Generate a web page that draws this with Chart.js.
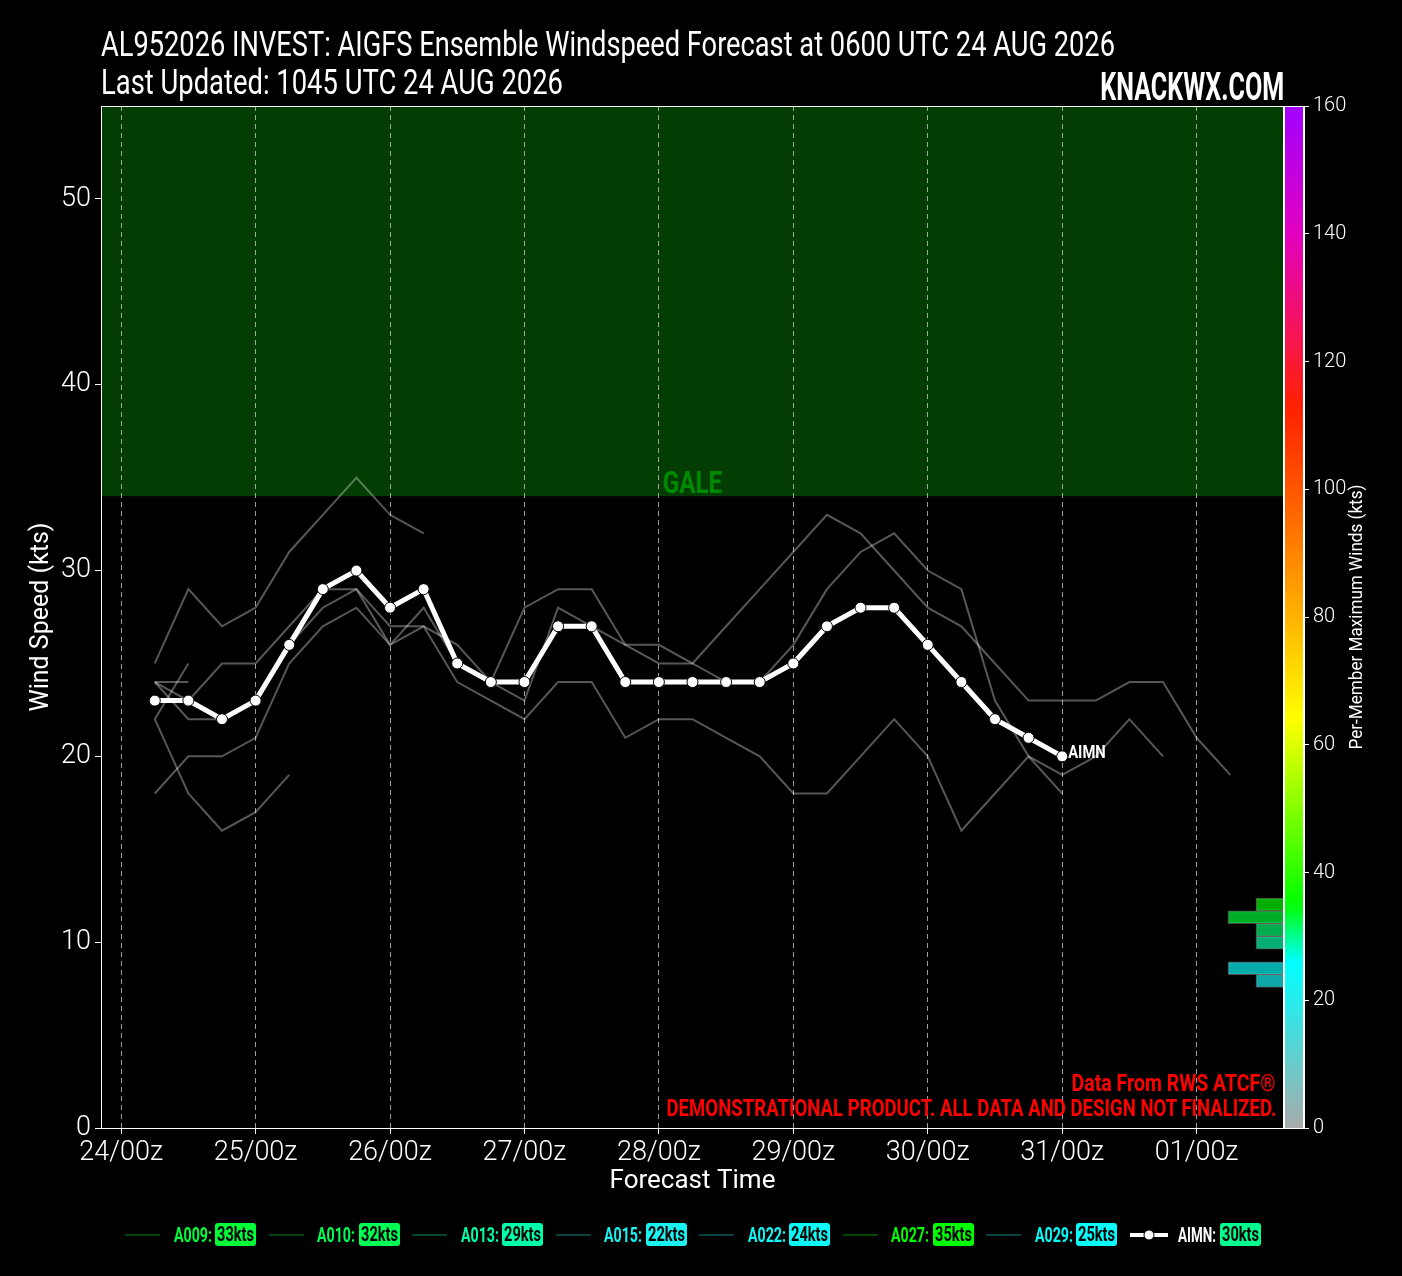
<!DOCTYPE html>
<html><head><meta charset="utf-8">
<script src="https://cdn.jsdelivr.net/npm/chart.js@4.4.1/dist/chart.umd.min.js"></script>
<style>
html,body{margin:0;padding:0;background:#000;width:1402px;height:1276px;overflow:hidden;}
#wrap{position:relative;width:1402px;height:1276px;background:#000;}
canvas{position:absolute;left:0;top:0;}
.t{position:absolute;color:#fff;font-family:Roboto,'Liberation Sans',sans-serif;white-space:nowrap;line-height:1;display:inline-block;}
.sw{position:absolute;height:2px;width:35px;}
.bx{position:absolute;height:23px;border-radius:3px;overflow:hidden;}
</style></head><body>
<div id="wrap">
<canvas id="c" width="1402" height="1276"></canvas>
<div class="t" id="t1" style="left:101px;top:27px;font-size:35px;">AL952026 INVEST: AIGFS Ensemble Windspeed Forecast at 0600 UTC 24 AUG 2026</div>
<div class="t" id="t2" style="left:101px;top:65px;font-size:35px;">Last Updated: 1045 UTC 24 AUG 2026</div>
<div class="t" id="brand" style="right:118px;top:68px;font-size:38px;font-weight:bold;">KNACKWX.COM</div>
<div class="t" id="red1" style="right:126px;top:1072px;font-size:23px;font-weight:bold;color:#ff0000;">Data From RWS ATCF®</div>
<div class="t" id="red2" style="right:126px;top:1097px;font-size:23px;font-weight:bold;color:#ff0000;">DEMONSTRATIONAL PRODUCT. ALL DATA AND DESIGN NOT FINALIZED.</div>
<div id="legend"></div>
</div>
<script>
// ---------------- DATA ----------------
const forecastHours = [6,12,18,24,30,36,42,48,54,60,66,72,78,84,90,96,102,108,114,120,126,132,138,144,150,156,162,168,174,180,186,192,198];
const tickHours = [0,24,48,72,96,120,144,168,192];
const tickLabels = ['24/00z','25/00z','26/00z','27/00z','28/00z','29/00z','30/00z','31/00z','01/00z'];

const memberNames = ['A009','A010','A013','A015','A022','A027','A029'];
const memberMaxWinds = [33,32,29,22,24,35,25];

const a009 = [24,23,25,25,27,29,29,27,27,26,24,28,29,29,26,26,25,27,29,31,33,32,30,28,27,25,23,23,23,24,24,21,19];
const a010 = [18,20,20,21,25,27,28,26,28,25,24,23,28,27,26,25,25,24,24,26,29,31,32,30,29,23,20,18];
const a013 = [24,22,22,23,26,28,29,26,27,24,23,22,24,24,21,22,22,21,20,18,18,20,22,20,16,18,20,19,20,22,20];
const a015 = [22,18,16,17,19];
const a022 = [24,24];
const a027 = [25,29,27,28,31,33,35,33,32];
const a029 = [22,25];

const aimnName = 'AIMN';
const aimnValues = [23,23,22,23,26,29,30,28,29,25,24,24,27,27,24,24,24,24,24,25,27,28,28,26,24,22,21,20];
const aimnMax = 30;

const histBinCenters = [35,33,31,29,25,23];
const histCounts = [1,2,1,1,2,1];
const histBinWidth = 2;

const galeThreshold = 34;
const galeLabel = 'GALE';
const windMin = 0, windMax = 55;
const cbarMin = 0, cbarMax = 160;

// ---------------- STYLE HELPERS ----------------
const F = "Roboto,'Liberation Sans',sans-serif";
const cmapStops = [[0,[170,170,170]],[26,[0,255,255]],[35,[0,255,0]],[64,[255,255,0]],[83,[255,165,0]],[100,[255,85,0]],[113,[255,32,0]],[125,[245,20,90]],[140,[225,0,190]],[160,[160,0,255]]];
function cmap(v){
  if (v <= cmapStops[0][0]) return cmapStops[0][1];
  for (let i=1;i<cmapStops.length;i++){
    const [v1,c1]=cmapStops[i], [v0,c0]=cmapStops[i-1];
    if (v<=v1){const t=(v-v0)/(v1-v0);return c0.map((c,k)=>c+(c1[k]-c)*t);}
  }
  return cmapStops[cmapStops.length-1][1];
}
function rgba(v,a){const c=cmap(v);return `rgba(${Math.round(c[0])},${Math.round(c[1])},${Math.round(c[2])},${a})`;}

const memberSeries = [a009,a010,a013,a015,a022,a027,a029];
const toXY = vals => vals.map((v,i)=>({x:forecastHours[i], y:v}));

const datasets = [
  {type:'line', label:aimnName, data:toXY(aimnValues), xAxisID:'x', yAxisID:'y',
   borderColor:'#ffffff', borderWidth:5, pointRadius:5.5, pointBackgroundColor:'#ffffff',
   pointBorderColor:'#000000', pointBorderWidth:1, tension:0, order:0},
  ...memberSeries.map((s,i)=>({type:'line', label:memberNames[i], data:toXY(s), xAxisID:'x', yAxisID:'y',
   borderColor:'rgba(255,255,255,0.34)', borderWidth:2, pointRadius:0, tension:0, order:1})),
  {type:'bar', label:'hist', indexAxis:'y', xAxisID:'xh', yAxisID:'yc', grouped:false,
   data:histBinCenters.map((c,i)=>({x:histCounts[i], y:c})),
   backgroundColor:histBinCenters.map(c=>rgba(c,0.68)), borderColor:'rgba(255,255,255,0.28)', borderWidth:1,
   barThickness:(ctx)=>{const s=ctx.chart.scales.yc; return Math.abs(s.getPixelForValue(0)-s.getPixelForValue(histBinWidth));},
   categoryPercentage:1, barPercentage:1, order:2}
];

const decor = {
  id:'decor',
  beforeDraw(chart){
    const {ctx, chartArea:a, scales:{y}} = chart;
    ctx.save();
    ctx.fillStyle='#000'; ctx.fillRect(0,0,chart.width,chart.height);
    const yt=y.getPixelForValue(windMax), yb=y.getPixelForValue(galeThreshold);
    ctx.fillStyle='#033d03';
    ctx.fillRect(a.left, yt, a.right-a.left, yb-yt);
    ctx.restore();
  },
  afterDatasetsDraw(chart){
    const {ctx, chartArea:a, scales:{y, ycbar}} = chart;
    ctx.save();
    // GALE label
    const gy = y.getPixelForValue(galeThreshold);
    ctx.translate((a.left+a.right)/2, gy-3);
    ctx.scale(0.78,1);
    ctx.font = "bold 31px "+F; ctx.fillStyle='#008a00'; ctx.textAlign='center'; ctx.textBaseline='alphabetic';
    ctx.fillText(galeLabel,0,0);
    ctx.restore();
    // AIMN end label
    const meta = chart.getDatasetMeta(0);
    const last = meta.data[meta.data.length-1];
    ctx.save();
    ctx.translate(last.x+6, last.y-3);
    ctx.scale(0.82,1);
    ctx.font="bold 18px "+F; ctx.fillStyle='#fff'; ctx.textAlign='left'; ctx.textBaseline='middle';
    ctx.fillText(aimnName, 0, 0);
    ctx.restore();
    // colorbar
    const y0=ycbar.getPixelForValue(cbarMin), y1=ycbar.getPixelForValue(cbarMax);
    const g = ctx.createLinearGradient(0,y0,0,y1);
    for (let v=cbarMin; v<=cbarMax; v+=2) g.addColorStop((v-cbarMin)/(cbarMax-cbarMin), rgba(v,1));
    ctx.save();
    ctx.fillStyle=g; ctx.fillRect(ycbar.left, y1, ycbar.right-ycbar.left, y0-y1);
    ctx.strokeStyle='#ffffff'; ctx.lineWidth=1;
    ctx.strokeRect(Math.round(ycbar.left)+0.5, Math.round(y1)+0.5, Math.round(ycbar.right-ycbar.left)-1, Math.round(y0-y1));
    // plot frame
    ctx.strokeRect(Math.round(a.left)+0.5, Math.round(a.top)+0.5, Math.round(a.right-a.left)-1, Math.round(a.bottom-a.top));
    // colorbar title
    ctx.translate(1357, (a.top+a.bottom)/2);
    ctx.rotate(-Math.PI/2);
    ctx.scale(0.9,1);
    ctx.font="19px "+F; ctx.fillStyle='#fff'; ctx.textAlign='center'; ctx.textBaseline='middle';
    ctx.fillText('Per-Member Maximum Winds (kts)',0,0);
    ctx.restore();
  }
};

new Chart(document.getElementById('c'), {
  type:'line',
  data:{datasets},
  options:{
    responsive:false, animation:false, devicePixelRatio:1, events:[],
    layout:{padding:{left:0,top:106,right:0,bottom:71}},
    plugins:{legend:{display:false}, tooltip:{enabled:false}, title:{display:false}},
    scales:{
      x:{type:'linear', position:'bottom', min:-3.6, max:207.6, offset:false,
         afterBuildTicks:s=>{s.ticks=tickHours.map(v=>({value:v}));},
         ticks:{callback:v=>tickLabels[tickHours.indexOf(v)], color:'#fff', font:{family:F,size:27,weight:'300'}, padding:3, maxRotation:0, autoSkip:false},
         grid:{color:'rgba(210,210,210,0.75)', lineWidth:1, drawTicks:true, tickLength:6, tickColor:'#fff', tickWidth:1, offset:false},
         border:{display:true, color:'#fff', width:1, dash:[5,4]},
         title:{display:true, text:'Forecast Time', color:'#fff', font:{family:F,size:26}, padding:{top:0,bottom:8}},
         afterFit:s=>{s.height=77;}},
      y:{type:'linear', position:'left', min:windMin, max:windMax, offset:false,
         ticks:{stepSize:10, includeBounds:false, color:'#fff', font:{family:F,size:27,weight:'300'}, padding:4},
         grid:{drawOnChartArea:false, tickLength:6, tickColor:'#fff'},
         border:{color:'#fff'},
         title:{display:true, text:'Wind Speed (kts)', color:'#fff', font:{family:F,size:25}, padding:{top:27,bottom:0}},
         afterFit:s=>{s.width=101;}},
      xh:{type:'linear', display:false, min:0, max:42.25, reverse:true, offset:false, beginAtZero:true},
      ycbar:{type:'linear', position:'right', weight:0, min:cbarMin, max:cbarMax, offset:false,
         ticks:{display:false}, grid:{display:false, offset:false}, border:{display:false},
         afterFit:s=>{s.width=20;}},
      yc:{type:'linear', position:'right', weight:1, min:cbarMin, max:cbarMax, offset:false,
         ticks:{stepSize:20, color:'#fff', font:{family:F,size:20,weight:'300'}, padding:4},
         grid:{drawOnChartArea:false, tickLength:5, tickColor:'#fff', offset:false},
         border:{color:'#fff'},
         afterFit:s=>{s.width=98;}}
    }
  },
  plugins:[decor]
});

// ---------------- LEGEND (HTML) ----------------
const legend = document.getElementById('legend');
const items = memberNames.map((n,i)=>({name:n, max:memberMaxWinds[i], mean:false}))
  .concat([{name:aimnName, max:aimnMax, mean:true}]);
function fit(el, w, origin){
  el.style.transformOrigin = origin || 'left center';
  const cw = el.getBoundingClientRect().width;
  if (cw>0) el.style.transform = `scaleX(${w/cw})`;
}
items.forEach((it,i)=>{
  const s = 125 + i*143.5;
  const col = rgba(it.max,1);
  if (it.mean){
    const sv = document.createElementNS('http://www.w3.org/2000/svg','svg');
    sv.setAttribute('width','40'); sv.setAttribute('height','14');
    sv.style.position='absolute'; sv.style.left=(s-1)+'px'; sv.style.top='1228px';
    sv.innerHTML='<line x1="1" y1="7" x2="39" y2="7" stroke="#fff" stroke-width="4"/><circle cx="20" cy="7" r="5" fill="#fff" stroke="#000" stroke-width="1"/>';
    legend.appendChild(sv);
  } else {
    const sw = document.createElement('div'); sw.className='sw';
    sw.style.left=s+'px'; sw.style.top='1234px'; sw.style.background=rgba(it.max,0.27);
    legend.appendChild(sw);
  }
  const nm = document.createElement('div'); nm.className='t';
  nm.textContent = it.name+':';
  nm.style.left=(s+48.5)+'px'; nm.style.top='1225px'; nm.style.fontSize='21px'; nm.style.fontWeight='bold';
  nm.style.color = it.mean ? '#ffffff' : col;
  legend.appendChild(nm);
  fit(nm, 38);
  const bx = document.createElement('div'); bx.className='bx';
  bx.style.left=(s+90)+'px'; bx.style.top='1223px'; bx.style.width='41px'; bx.style.background=col;
  const sp = document.createElement('span'); sp.className='t'; sp.style.left='2px'; sp.style.top='1px'; sp.style.color='#000';
  sp.style.fontSize='21px'; sp.style.fontWeight='bold';
  sp.textContent = it.max+'kts';
  bx.appendChild(sp); legend.appendChild(bx);
  fit(sp, 37);
});
fit(document.getElementById('t1'), 1014);
fit(document.getElementById('t2'), 462);
fit(document.getElementById('brand'), 184, 'right center');
fit(document.getElementById('red1'), 204, 'right center');
fit(document.getElementById('red2'), 610, 'right center');
</script>
</body></html>
